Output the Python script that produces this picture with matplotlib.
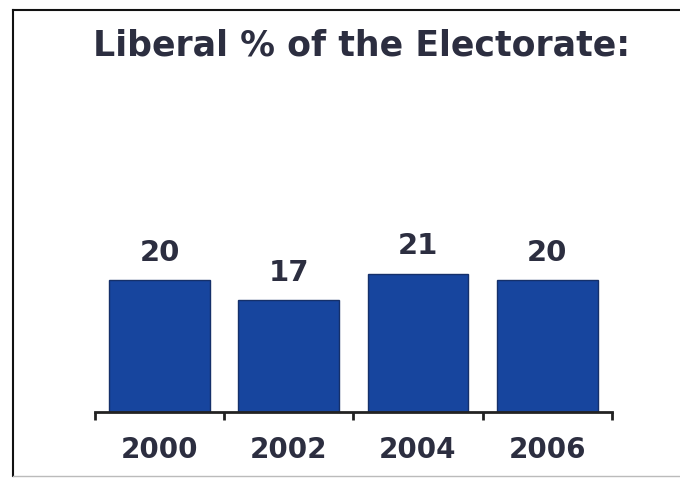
import matplotlib.pyplot as plt
from matplotlib.lines import Line2D

# data
years = ['2000', '2002', '2004', '2006']
liberal_pct = [20, 17, 21, 20]

bar_color = '#17459e'
text_color = '#2c2e40'

fig = plt.figure(figsize=(6.8, 4.78), dpi=100)
ax = fig.add_axes([0.1397, 0.138, 0.760, 0.552])

pos = list(range(len(years)))
ax.bar(pos, liberal_pct, width=0.78, color=bar_color, edgecolor='#15306a', linewidth=1)

# value labels above the bars
for x, v in zip(pos, liberal_pct):
    ax.annotate(str(v), (x, v), xytext=(0, 9.5), textcoords='offset points',
                ha='center', va='bottom', fontsize=21, fontweight='bold',
                color=text_color)

ax.set_xlim(-0.5, len(years) - 0.5)
ax.set_ylim(0, 40)

# year labels under the bars, tick marks at the group edges
ax.set_xticks(pos)
ax.set_xticklabels(years, fontsize=20, fontweight='bold', color=text_color)
ax.tick_params(axis='x', which='major', length=0, pad=17.5)
ax.set_xticks([p - 0.5 for p in pos] + [len(years) - 0.5], minor=True)
ax.tick_params(axis='x', which='minor', length=6, width=2, color='#222222', direction='out')
ax.set_yticks([])

for side in ['left', 'right', 'top']:
    ax.spines[side].set_visible(False)
ax.spines['bottom'].set_linewidth(2)
ax.spines['bottom'].set_color('#222222')

fig.text(0.531, 1 - 55 / 478, 'Liberal % of the Electorate:', ha='center', va='baseline',
         fontsize=25, fontweight='bold', color=text_color)

# frame around the slide
fig.add_artist(Line2D([13 / 680, 13 / 680], [2 / 478, 468 / 478], color='#111111', lw=1.5))
fig.add_artist(Line2D([13 / 680, 1.0], [468 / 478, 468 / 478], color='#111111', lw=1.5))
fig.add_artist(Line2D([13 / 680, 1.0], [2 / 478, 2 / 478], color='#bbbbbb', lw=1))

fig.savefig('out.png', dpi=100)
